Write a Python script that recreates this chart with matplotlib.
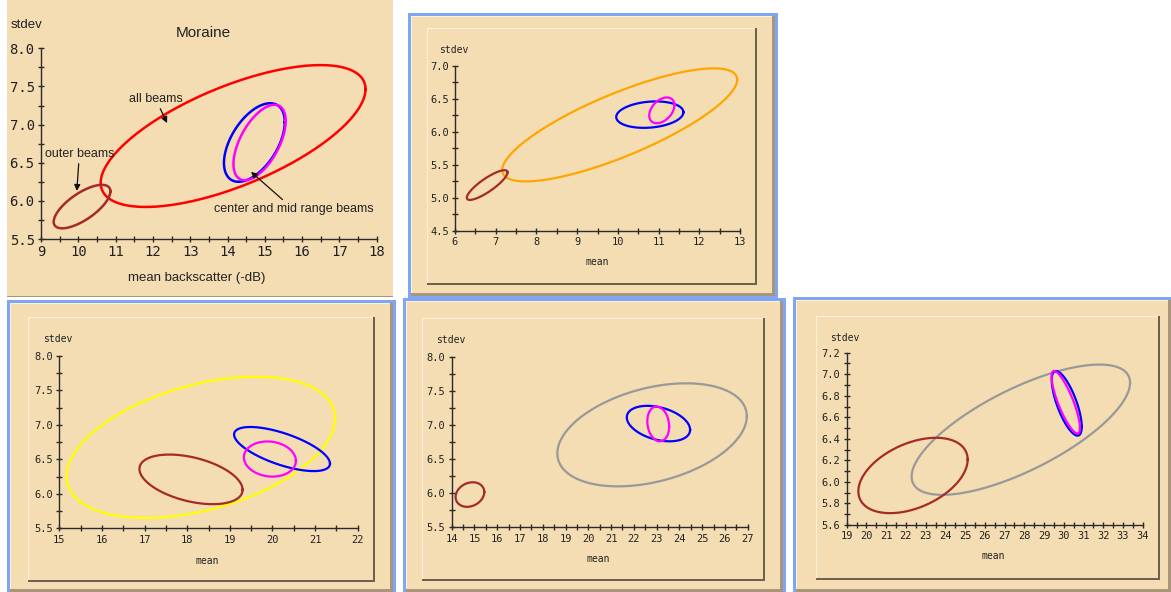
import numpy as np
import matplotlib
matplotlib.use("Agg")
import matplotlib.pyplot as plt
from matplotlib.patches import Rectangle
from matplotlib.ticker import MultipleLocator, FormatStrFormatter

# ---------------- data (ellipses: centre, half-ranges, correlation) ----------------
# Panel 1 : Moraine  (all beams, outer beams, center beams, mid range beams)
p1_names = ["all beams", "outer beams", "center beams", "mid range beams"]
p1_mean_c = [14.15, 10.10, 14.72, 14.86]
p1_std_c = [6.85, 5.925, 6.765, 6.765]
p1_mean_hw = [3.55, 0.76, 0.815, 0.70]
p1_std_hw = [0.93, 0.285, 0.515, 0.495]
p1_rho = [0.66, 0.70, 0.52, 0.57]
p1_colors = ["#FF0000", "#A52A2A", "#0000FF", "#FF00FF"]

# Panel 2
p2_mean_c = [10.045, 6.79, 10.785, 11.08]
p2_std_c = [6.105, 5.195, 6.26, 6.325]
p2_mean_hw = [2.885, 0.50, 0.825, 0.31]
p2_std_hw = [0.855, 0.225, 0.20, 0.195]
p2_rho = [0.80, 0.85, 0.18, 0.40]
p2_colors = ["#FFA500", "#A52A2A", "#0000FF", "#FF00FF"]

# Panel 3
p3_mean_c = [18.32, 18.09, 20.225, 19.94]
p3_std_c = [6.675, 6.21, 6.65, 6.505]
p3_mean_hw = [3.15, 1.21, 1.125, 0.61]
p3_std_hw = [1.025, 0.36, 0.32, 0.255]
p3_rho = [0.41, -0.42, -0.66, -0.10]
p3_colors = ["#FFFF00", "#A52A2A", "#0000FF", "#FF00FF"]

# Panel 4
p4_mean_c = [22.80, 14.80, 23.08, 23.07]
p4_std_c = [6.855, 5.98, 7.02, 7.015]
p4_mean_hw = [4.16, 0.63, 1.39, 0.48]
p4_std_hw = [0.755, 0.18, 0.26, 0.255]
p4_rho = [0.36, 0.20, -0.35, -0.15]
p4_colors = ["#999999", "#A52A2A", "#0000FF", "#FF00FF"]

# Panel 5
p5_mean_c = [27.825, 22.36, 30.15, 30.10]
p5_std_c = [6.485, 6.06, 6.73, 6.74]
p5_mean_hw = [5.535, 2.77, 0.76, 0.72]
p5_std_hw = [0.605, 0.35, 0.30, 0.29]
p5_rho = [0.72, 0.42, -0.72, -0.82]
p5_colors = ["#999999", "#A52A2A", "#0000FF", "#FF00FF"]

# axis ranges / ticks
p1_xlim, p1_ylim = (9, 18), (5.5, 8.0)
p2_xlim, p2_ylim = (6, 13), (4.5, 7.0)
p3_xlim, p3_ylim = (15, 22), (5.5, 8.0)
p4_xlim, p4_ylim = (14, 27), (5.5, 8.0)
p5_xlim, p5_ylim = (19, 34), (5.6, 7.2)

# ---------------- figure ----------------
W, H = 1171, 592
fig = plt.figure(figsize=(W / 100, H / 100), dpi=100)
fig.patch.set_facecolor("white")

TAN = "#F4DDB2"
BLUE = "#7FA6F5"
LIGHT = "#FDF1DA"
SHADOW = "#A8957A"
DARK = "#6E604E"


def fx(x):
    return x / W


def fy(y):
    return 1 - y / H


def rect(x0, y0, x1, y1, fc, z=0):
    fig.add_artist(Rectangle((fx(x0), fy(y1)), fx(x1) - fx(x0), fy(y0) - fy(y1),
                             transform=fig.transFigure, fc=fc, ec="none", lw=0, zorder=z))


def outer_panel(x0, y0, x1, y1):
    rect(x0, y0, x1, y1, BLUE)
    rect(x0 + 3, y0 + 3, x1 - 3, y1 - 3, SHADOW)
    rect(x0 + 3, y0 + 3, x1 - 6, y1 - 6, LIGHT)
    rect(x0 + 4, y0 + 4, x1 - 6, y1 - 6, TAN)


def inner_panel(x0, y0, x1, y1):
    rect(x0, y0, x1, y1, DARK)
    rect(x0, y0, x1 - 2, y1 - 2, LIGHT)
    rect(x0 + 1, y0 + 1, x1 - 2, y1 - 2, TAN)


def make_axes(px0, px1, py_top, py_bot, xlim, ylim, xminor, ymajor, yminor, fs):
    ax = fig.add_axes([fx(px0), fy(py_bot), fx(px1) - fx(px0), fy(py_top) - fy(py_bot)])
    ax.patch.set_visible(False)
    ax.set_xlim(*xlim)
    ax.set_ylim(*ylim)
    for s in ["top", "right"]:
        ax.spines[s].set_visible(False)
    for s in ["left", "bottom"]:
        ax.spines[s].set_color("#2a2a2a")
        ax.spines[s].set_linewidth(1.0)
    ax.xaxis.set_major_locator(MultipleLocator(1))
    ax.xaxis.set_minor_locator(MultipleLocator(xminor))
    ax.yaxis.set_major_locator(MultipleLocator(ymajor))
    ax.yaxis.set_minor_locator(MultipleLocator(yminor))
    ax.xaxis.set_major_formatter(FormatStrFormatter("%d"))
    ax.yaxis.set_major_formatter(FormatStrFormatter("%.1f"))
    ax.tick_params(which="both", direction="inout", length=5, width=1.0, color="#2a2a2a",
                   labelsize=fs, labelcolor="#222222", pad=2)
    for lab in ax.get_xticklabels() + ax.get_yticklabels():
        lab.set_family("DejaVu Sans Mono")
    return ax


def draw_ellipses(ax, mc, sc, mhw, shw, rho, colors, lw=1.6):
    t = np.linspace(0, 2 * np.pi, 300)
    for m, s, a, b, r, c in zip(mc, sc, mhw, shw, rho, colors):
        phi = np.arccos(r)
        ax.plot(m + a * np.cos(t), s + b * np.cos(t - phi), color=c, lw=lw,
                solid_joinstyle="round")


# ---------------- panel 1 ----------------
rect(7, 0, 393, 297, SHADOW)
rect(7, 0, 393, 296, TAN)
ax1 = make_axes(41, 376.7, 48.3, 239, p1_xlim, p1_ylim, 0.5, 0.5, 0.25, 10)
draw_ellipses(ax1, p1_mean_c, p1_std_c, p1_mean_hw, p1_std_hw, p1_rho, p1_colors, lw=1.8)
fig.text(fx(27), fy(25), "stdev", ha="center", va="center", fontsize=9.5,
         family="Liberation Sans", color="#222222")
fig.text(fx(203), fy(33), "Moraine", ha="center", va="center", fontsize=11,
         family="Liberation Sans", color="#222222")
fig.text(fx(197), fy(278), "mean backscatter (-dB)", ha="center", va="center", fontsize=9.5,
         family="Liberation Sans", color="#222222")
arrow_kw = dict(arrowstyle="-|>", color="#111111", lw=0.9, mutation_scale=9, shrinkA=1, shrinkB=0)
ax1.annotate("all beams", xy=(12.38, 7.02), xytext=(12.07, 7.34), ha="center", va="center",
             fontsize=9, family="Liberation Sans", color="#222222", arrowprops=arrow_kw)
ax1.annotate("outer beams", xy=(9.96, 6.13), xytext=(10.03, 6.62), ha="center", va="center",
             fontsize=9, family="Liberation Sans", color="#222222", arrowprops=arrow_kw)
ax1.annotate("center and mid range beams", xy=(14.63, 6.38), xytext=(15.77, 5.89), ha="center",
             va="center", fontsize=9, family="Liberation Sans", color="#222222",
             arrowprops=arrow_kw)

# ---------------- panel 2 ----------------
outer_panel(408, 13, 778, 299)
inner_panel(427, 28, 757, 285)
ax2 = make_axes(455, 740, 65.7, 231, p2_xlim, p2_ylim, 0.5, 0.5, 0.25, 7.5)
draw_ellipses(ax2, p2_mean_c, p2_std_c, p2_mean_hw, p2_std_hw, p2_rho, p2_colors)
fig.text(fx(454), fy(50), "stdev", ha="center", va="center", fontsize=7, family="DejaVu Sans Mono",
         color="#222222")
fig.text(fx(597), fy(262), "mean", ha="center", va="center", fontsize=7, family="DejaVu Sans Mono",
         color="#222222")

# ---------------- panel 3 ----------------
outer_panel(7, 300, 396, 595)
inner_panel(28, 317, 375, 582)
ax3 = make_axes(59.3, 357.7, 356, 528.3, p3_xlim, p3_ylim, 0.5, 0.5, 0.25, 7.5)
draw_ellipses(ax3, p3_mean_c, p3_std_c, p3_mean_hw, p3_std_hw, p3_rho, p3_colors)
fig.text(fx(58), fy(339), "stdev", ha="center", va="center", fontsize=7, family="DejaVu Sans Mono",
         color="#222222")
fig.text(fx(207), fy(561), "mean", ha="center", va="center", fontsize=7, family="DejaVu Sans Mono",
         color="#222222")

# ---------------- panel 4 ----------------
outer_panel(403, 298, 786, 595)
inner_panel(422, 318, 765, 581)
ax4 = make_axes(451.7, 747.7, 356.7, 527.3, p4_xlim, p4_ylim, 0.5, 0.5, 0.25, 7.5)
draw_ellipses(ax4, p4_mean_c, p4_std_c, p4_mean_hw, p4_std_hw, p4_rho, p4_colors)
fig.text(fx(451), fy(340), "stdev", ha="center", va="center", fontsize=7, family="DejaVu Sans Mono",
         color="#222222")
fig.text(fx(598), fy(559), "mean", ha="center", va="center", fontsize=7, family="DejaVu Sans Mono",
         color="#222222")

# ---------------- panel 5 ----------------
outer_panel(793, 297, 1174, 595)
inner_panel(816, 316, 1160, 580)
ax5 = make_axes(846.7, 1142.7, 352.7, 525, p5_xlim, p5_ylim, 0.5, 0.2, 0.1, 7.5)
draw_ellipses(ax5, p5_mean_c, p5_std_c, p5_mean_hw, p5_std_hw, p5_rho, p5_colors)
fig.text(fx(845), fy(338), "stdev", ha="center", va="center", fontsize=7, family="DejaVu Sans Mono",
         color="#222222")
fig.text(fx(993), fy(556), "mean", ha="center", va="center", fontsize=7, family="DejaVu Sans Mono",
         color="#222222")

fig.savefig("out.png", dpi=100, facecolor="white")
